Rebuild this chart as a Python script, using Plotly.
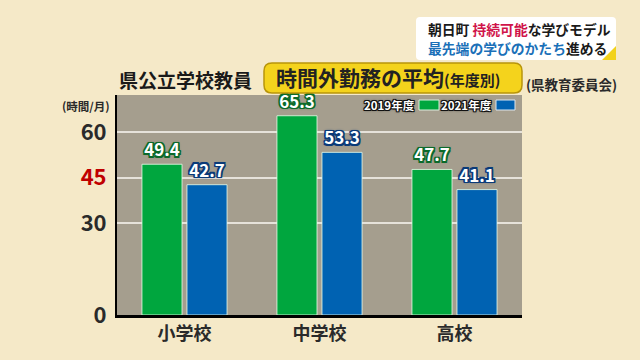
import plotly.graph_objects as go

categories = ["小学校", "中学校", "高校"]
series_names = ["2019年度", "2021年度"]
values_2019 = [49.4, 65.3, 47.7]
values_2021 = [42.7, 53.3, 41.1]
tick_values = [0, 30, 45, 60]
tick_labels = ["0", "30", "<span style='color:#C00000'>45</span>", "60"]
limit_value = 45

FONT = "Noto Sans CJK JP"
GREEN = "#00A63E"
BLUE = "#0062B2"
BG = "#F5E9C8"

# pixel -> paper helpers (plot area x 117..522, y 95..315)
L, R, T, B = 117, 522, 95, 315
def px(x):
    return (x - L) / (R - L)
def py(y):
    return (B - y) / (B - T)

def outline(c, w=1):
    s = []
    for dx in (-w, 0, w):
        for dy in (-w, 0, w):
            if dx or dy:
                s.append(f"{dx}px {dy}px 0 {c}")
    s.append(f"0 0 3px {c}")
    return ", ".join(s)

fig = go.Figure()
for name, vals, col, dark in [(series_names[0], values_2019, GREEN, "#0B6A2A"),
                              (series_names[1], values_2021, BLUE, "#0A3A78")]:
    fig.add_trace(go.Bar(
        x=categories, y=vals, name=name,
        marker=dict(color=col, line=dict(color="rgba(235,255,235,0.8)", width=1)),
        text=[f"{v:.1f}" for v in vals], textposition="outside",
        constraintext="none", cliponaxis=False,
        textfont=dict(family=FONT, size=17, color="white", weight="bold",
                      shadow=outline(dark, 1.5)),
        hoverinfo="skip",
    ))

def rounded_rect(x0, y0, x1, y1, r):
    return (f"M {px(x0+r)},{py(y0)} L {px(x1-r)},{py(y0)} "
            f"Q {px(x1)},{py(y0)} {px(x1)},{py(y0+r)} L {px(x1)},{py(y1-r)} "
            f"Q {px(x1)},{py(y1)} {px(x1-r)},{py(y1)} L {px(x0+r)},{py(y1)} "
            f"Q {px(x0)},{py(y1)} {px(x0)},{py(y1-r)} L {px(x0)},{py(y0+r)} "
            f"Q {px(x0)},{py(y0)} {px(x0+r)},{py(y0)} Z")

shapes = [
    # 45 limit line
    dict(type="line", xref="paper", yref="y", x0=0, x1=1, y0=limit_value, y1=limit_value,
         line=dict(color="#B00A0A", width=1.5), layer="below"),
    # yellow title box
    dict(type="path", xref="paper", yref="paper", path=rounded_rect(264, 63, 522, 93, 8),
         fillcolor="#F4D31C", line=dict(color="#B8950A", width=1.5)),
    # caption box
    dict(type="path", xref="paper", yref="paper", path=rounded_rect(416, 17, 616, 60, 4),
         fillcolor="white", line=dict(color="rgba(0,0,0,0)", width=0)),
    dict(type="path", xref="paper", yref="paper",
         path=f"M {px(616)},{py(46)} L {px(616)},{py(60)} L {px(602)},{py(60)} Z",
         fillcolor="#F2D21A", line=dict(width=0)),
    # legend swatches
    dict(type="rect", xref="paper", yref="paper", x0=px(419), x1=px(439), y0=py(110), y1=py(100),
         fillcolor=GREEN, line=dict(color="#DDEEDD", width=1)),
    dict(type="rect", xref="paper", yref="paper", x0=px(496), x1=px(515), y0=py(110), y1=py(100),
         fillcolor=BLUE, line=dict(color="#DDE6EE", width=1)),
]

ann = []
def add(text, x, y, size, color="#1A1A1A", xanchor="left", shadow=None):
    ann.append(dict(text=text, xref="paper", yref="paper", x=px(x), y=py(y),
                    xanchor=xanchor, yanchor="middle", showarrow=False,
                    font=dict(family=FONT, size=size, color=color, weight="bold",
                              **({"shadow": shadow} if shadow else {}))))

add("県公立学校教員", 117, 79, 19)
add("時間外勤務の平均<span style='font-size:15px'>(年度別)</span>", 274, 76.5, 21, color="#222")
add("(県教育委員会)", 524, 84, 13.5, color="#2A2A2A")
add("(時間/月)", 112, 106, 11.5, color="#2A2A2A", xanchor="right")
add("朝日町 <span style='color:#D0144A'>持続可能</span>な学びモデル", 426, 28.5, 13.8)
add("<span style='color:#1A70B8'>最先端の学びのかたち</span>進める", 426, 47.5, 13.8)
add("2019年度", 417, 105, 11.5, color="white", xanchor="right", shadow=outline("#111"))
add("2021年度", 494, 105, 11.5, color="white", xanchor="right", shadow=outline("#111"))

fig.update_layout(
    width=640, height=360,
    margin=dict(l=L, r=640 - R, t=T, b=360 - B, pad=0),
    paper_bgcolor=BG, plot_bgcolor="#A59E8E",
    barmode="group", bargap=0.333, bargroupgap=0.11,
    showlegend=False,
    shapes=shapes, annotations=ann,
    font=dict(family=FONT),
)
fig.update_xaxes(showline=True, linecolor="black", linewidth=3, ticks="",
                 tickfont=dict(family=FONT, size=18, color="#2A2A2A", weight="bold"),
                 showgrid=False)
fig.update_yaxes(range=[0, 72.1], tickvals=tick_values, ticktext=tick_labels,
                 showline=True, linecolor="black", linewidth=2, ticks="",
                 tickfont=dict(family=FONT, size=22, color="#2A2A2A", weight="bold"),
                 showgrid=True, gridcolor="#E6E2DA", gridwidth=1.5, zeroline=False,
                 ticklabelstandoff=4)

fig.write_html("out.html", config={"displayModeBar": False},
               post_script=f"document.body.style.margin='0';document.body.style.overflow='hidden';document.body.style.background='{BG}';")
